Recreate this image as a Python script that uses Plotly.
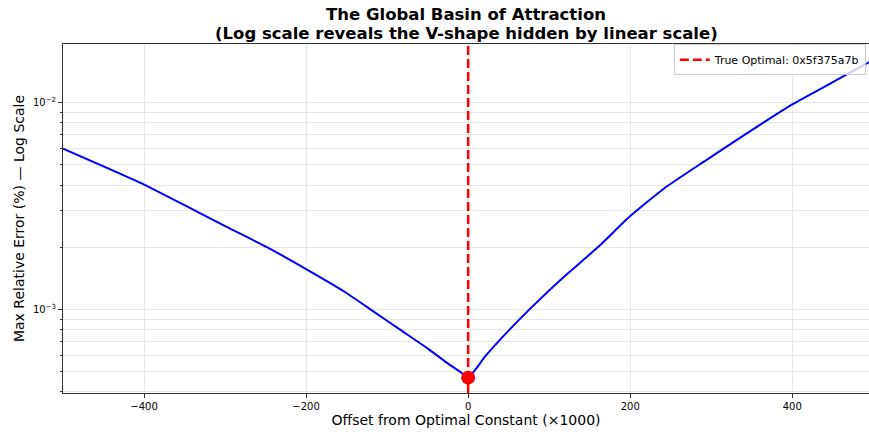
import plotly.graph_objects as go

# Data
offsets = [-500, -400, -340, -298, -249, -200, -154, -117, -84, -51, -27, -8, 0,
           21, 49, 82, 119, 160, 200, 243, 292, 342, 400, 449, 490, 495]
max_rel_error = [0.00599, 0.00402, 0.00305, 0.00251, 0.00201, 0.00157, 0.00123, 0.000981,
                 0.000800, 0.000653, 0.000556, 0.000494, 0.000469,
                 0.000594, 0.000785, 0.00106, 0.00145, 0.00200, 0.00283, 0.00388,
                 0.00522, 0.00703, 0.00981, 0.01250, 0.01532, 0.01572]
optimal_offset = 0
optimal_error = 0.000469
optimal_label = "True Optimal: 0x5f375a7b"

title_line1 = "The Global Basin of Attraction"
title_line2 = "(Log scale reveals the V-shape hidden by linear scale)"
x_title = "Offset from Optimal Constant (\u00d71000)"
y_title = "Max Relative Error (%) \u2014 Log Scale"

x_range = [-500, 494.7]
y_range_log = [-3.403, -1.7165]
x_ticks = [-400, -200, 0, 200, 400]
x_ticktext = ["\u2212400", "\u2212200", "0", "200", "400"]
y_ticks = [0.001, 0.01]
y_ticktext = ["10<sup>\u22123</sup>", "10<sup>\u22122</sup>"]
y_minor = [4e-4, 5e-4, 6e-4, 7e-4, 8e-4, 9e-4,
           2e-3, 3e-3, 4e-3, 5e-3, 6e-3, 7e-3, 8e-3, 9e-3]

FONT = "DejaVu Sans"
grid_c = "rgba(176,176,176,0.3)"

fig = go.Figure()
fig.add_trace(go.Scatter(x=offsets, y=max_rel_error, mode="lines",
                         line=dict(color="#0000ff", width=2, shape="spline", smoothing=0.5),
                         showlegend=False, hoverinfo="skip"))
fig.add_shape(type="line", x0=optimal_offset, x1=optimal_offset, xref="x",
              y0=0, y1=1, yref="y domain",
              line=dict(color="#ff0000", width=2.5, dash="9px,4px"),
              showlegend=True, name=optimal_label)
fig.add_trace(go.Scatter(x=[optimal_offset], y=[optimal_error], mode="markers",
                         marker=dict(color="#ff0000", size=14), showlegend=False,
                         cliponaxis=False))

PLOT_TOP, PLOT_BOTTOM = 44, 393


def paper_y(px):
    return (PLOT_BOTTOM - px) / (PLOT_BOTTOM - PLOT_TOP)


fig.add_annotation(text="<b>" + title_line1 + "</b>", xref="paper", yref="paper",
                   x=0.5, y=paper_y(14.5), xanchor="center", yanchor="middle",
                   showarrow=False, font=dict(family=FONT, size=16.5, color="black"))
fig.add_annotation(text="<b>" + title_line2 + "</b>", xref="paper", yref="paper",
                   x=0.5, y=paper_y(33), xanchor="center", yanchor="middle",
                   showarrow=False, font=dict(family=FONT, size=16.5, color="black"))

fig.update_layout(
    width=869, height=432,
    margin=dict(l=63, r=0, t=PLOT_TOP, b=432 - PLOT_BOTTOM),
    paper_bgcolor="white", plot_bgcolor="white",
    font=dict(family=FONT, color="black"),
    legend=dict(x=0.996, y=0.999, xanchor="right", yanchor="top",
                bgcolor="rgba(255,255,255,0.8)", bordercolor="#cccccc", borderwidth=1,
                font=dict(family=FONT, size=11)),
    showlegend=True,
)
fig.update_xaxes(range=x_range, tickvals=x_ticks, ticktext=x_ticktext,
                 showgrid=True, gridcolor=grid_c, gridwidth=1,
                 showline=True, linecolor="#333333", linewidth=1, mirror=True,
                 ticks="outside", ticklen=4, tickcolor="#333333",
                 tickfont=dict(family=FONT, size=10), zeroline=False,
                 title=dict(text=x_title, font=dict(family=FONT, size=14), standoff=4))
fig.update_yaxes(type="log", range=y_range_log, tickvals=y_ticks, ticktext=y_ticktext,
                 showgrid=True, gridcolor=grid_c, gridwidth=1,
                 showline=True, linecolor="#333333", linewidth=1, mirror=True,
                 ticks="outside", ticklen=4, tickcolor="#333333",
                 tickfont=dict(family=FONT, size=10), zeroline=False,
                 minor=dict(tickvals=y_minor, ticks="outside", ticklen=2,
                            tickcolor="#333333", showgrid=True, gridcolor=grid_c),
                 title=dict(text=y_title, font=dict(family=FONT, size=14), standoff=5))

fig.write_html("out.html", config={"displayModeBar": False},
               post_script="document.body.style.margin='0';document.body.style.padding='0';")
